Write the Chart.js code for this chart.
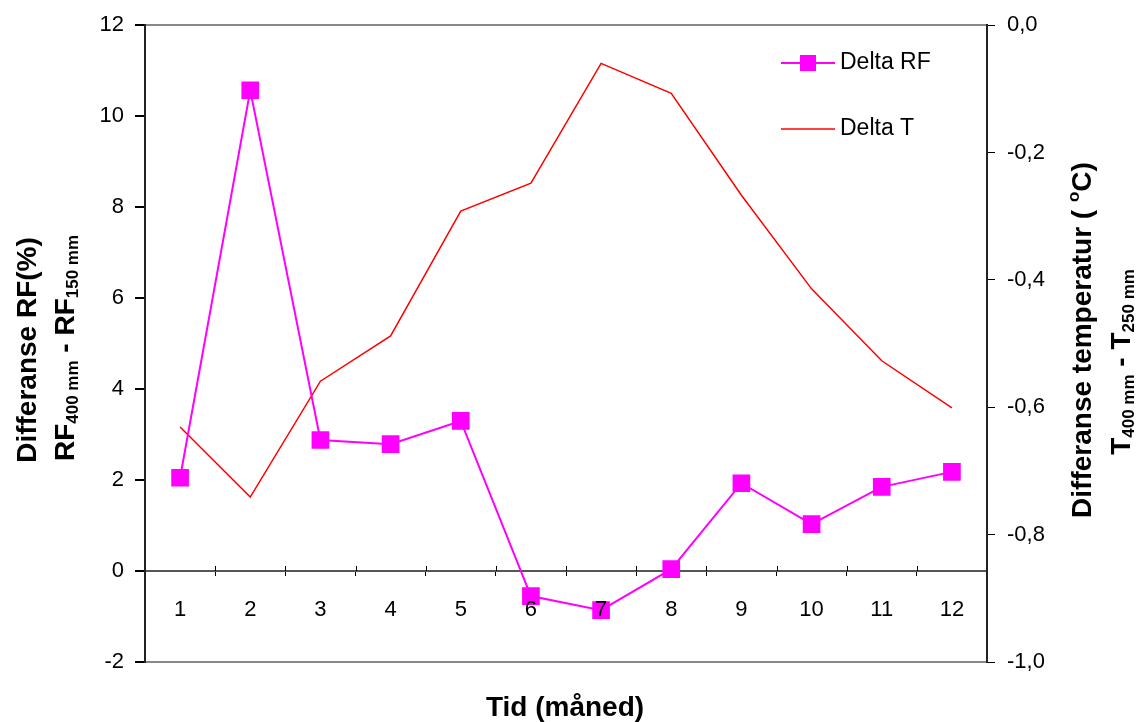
<!DOCTYPE html>
<html>
<head>
    <meta http-equiv="Content-Type" content="text/html; charset=UTF-8">
    <title>Delta RF / Delta T</title>
    <script src="https://cdn.jsdelivr.net/npm/chart.js@4.4.1/dist/chart.umd.min.js"></script>
    <style>
        html, body { margin: 0; padding: 0; background: #fff; }
        #wrap { width: 1145px; height: 722px; }
    </style>
    <script>
        // data
        const maaneder = ['1', '2', '3', '4', '5', '6', '7', '8', '9', '10', '11', '12'];
        const deltaRF = [2.05, 10.57, 2.88, 2.79, 3.3, -0.55, -0.86, 0.04, 1.93, 1.03, 1.85, 2.18];
        const deltaT = [-0.631, -0.741, -0.559, -0.488, -0.292, -0.248, -0.060, -0.107, -0.267, -0.414, -0.527, -0.601];
        const venstreTicks = [-2, 0, 2, 4, 6, 8, 10, 12];
        const hoyreTicks = [-1.0, -0.8, -0.6, -0.4, -0.2, 0.0];

        const FONT = 'Liberation Sans, Arial, sans-serif';

        // tekst med sub/superscript, evt. rotert
        function drawRich(ctx, parts, x, y, rot) {
            ctx.save();
            ctx.translate(x, y);
            if (rot) ctx.rotate(rot);
            ctx.fillStyle = '#000';
            ctx.textBaseline = 'alphabetic';
            ctx.textAlign = 'left';
            let total = 0;
            parts.forEach(p => { ctx.font = p.f; p.w = ctx.measureText(p.t).width; total += p.w; });
            let cx = -total / 2;
            parts.forEach(p => {
                ctx.font = p.f;
                ctx.fillText(p.t, cx, p.dy || 0);
                cx += p.w;
            });
            ctx.restore();
        }

        const titlePlugin = {
            id: 'aksetitler',
            afterDraw(chart) {
                const ctx = chart.ctx;
                const big = 'bold 28px ' + FONT;
                const sub = 'bold 17px ' + FONT;
                const up = -Math.PI / 2;
                drawRich(ctx, [{ t: 'Differanse RF(%)', f: big }], 36, 350, up);
                drawRich(ctx, [
                    { t: 'RF', f: big }, { t: '400 mm', f: sub, dy: 4 },
                    { t: ' - RF', f: big }, { t: '150 mm', f: sub, dy: 4 }
                ], 74, 348, up);
                drawRich(ctx, [
                    { t: 'Differanse temperatur ( ', f: big },
                    { t: 'o', f: sub, dy: -12 }, { t: 'C)', f: big }
                ], 1091, 340, up);
                drawRich(ctx, [
                    { t: 'T', f: big }, { t: '400 mm', f: sub, dy: 4 },
                    { t: ' - T', f: big }, { t: '250 mm', f: sub, dy: 4 }
                ], 1130, 362, up);
                drawRich(ctx, [{ t: 'Tid (måned)', f: big }], 565, 716, 0);
            }
        };

        // forklaring oppe til høyre, inne i plottet
        const legendPlugin = {
            id: 'forklaring',
            afterDatasetsDraw(chart) {
                const ctx = chart.ctx;
                const rows = [63, 129];
                chart.data.datasets.forEach((ds, i) => {
                    const y = rows[i];
                    ctx.save();
                    ctx.strokeStyle = ds.borderColor;
                    ctx.lineWidth = ds.borderWidth;
                    ctx.beginPath();
                    ctx.moveTo(781, y);
                    ctx.lineTo(835, y);
                    ctx.stroke();
                    if (ds.pointRadius > 0) {
                        ctx.fillStyle = ds.pointBackgroundColor;
                        ctx.fillRect(808 - 8, y - 8, 16, 16);
                    }
                    ctx.fillStyle = '#000';
                    ctx.font = '23px ' + FONT;
                    ctx.textBaseline = 'middle';
                    ctx.fillText(ds.label, 840, y);
                    ctx.restore();
                });
            }
        };

        // små merker på nullinja som går opp også
        const tickPlugin = {
            id: 'kryssmerker',
            afterDatasetsDraw(chart) {
                const x = chart.scales.x, y = chart.scales.y;
                const y0 = y.getPixelForValue(0);
                const ctx = chart.ctx;
                ctx.save();
                ctx.strokeStyle = '#000';
                ctx.lineWidth = 1;
                for (let i = 0; i < maaneder.length - 1; i++) {
                    const px = Math.round((x.getPixelForValue(i) + x.getPixelForValue(i + 1)) / 2) + 0.5;
                    ctx.beginPath();
                    ctx.moveTo(px, y0 - 5);
                    ctx.lineTo(px, y0);
                    ctx.stroke();
                }
                ctx.restore();
            }
        };

        window.addEventListener('load', function () {
            const ctx = document.getElementById('myChart');
            new Chart(ctx, {
                type: 'line',
                data: {
                    labels: maaneder,
                    datasets: [{
                        label: 'Delta RF',
                        data: deltaRF,
                        yAxisID: 'y',
                        borderColor: '#FF00FF',
                        backgroundColor: '#FF00FF',
                        borderWidth: 2,
                        pointStyle: 'rect',
                        pointRadius: 12.5,
                        pointHoverRadius: 12.5,
                        pointBorderWidth: 0,
                        pointBackgroundColor: '#FF00FF',
                        tension: 0
                    }, {
                        label: 'Delta T',
                        data: deltaT,
                        yAxisID: 'y2',
                        borderColor: '#FF0000',
                        backgroundColor: '#FF0000',
                        borderWidth: 1.5,
                        pointRadius: 0,
                        tension: 0
                    }]
                },
                options: {
                    responsive: false,
                    animation: false,
                    layout: { padding: { top: 25, bottom: 60, left: 0, right: 0 } },
                    plugins: {
                        legend: { display: false },
                        tooltip: { enabled: false }
                    },
                    scales: {
                        x: {
                            type: 'category',
                            position: { y: 0 },
                            offset: true,
                            grid: { offset: true, drawOnChartArea: false, tickLength: 5, color: '#000' },
                            border: { display: false },
                            // tallene ligger over markørene (se 7)
                            ticks: { z: 1, color: '#000', font: { size: 22, family: FONT }, padding: 21, maxRotation: 0 }
                        },
                        y: {
                            position: 'left',
                            min: -2,
                            max: 12,
                            afterBuildTicks: s => { s.ticks = venstreTicks.map(v => ({ value: v })); },
                            afterFit: s => { s.width = 145; },
                            grid: {
                                color: c => {
                                    if (!c.tick) return 'rgba(0,0,0,0)';
                                    if (c.tick.value === 0) return '#555';
                                    return (c.tick.value === 12 || c.tick.value === -2) ? '#888' : 'rgba(0,0,0,0)';
                                },
                                tickColor: '#000',
                                tickLength: 10,
                                lineWidth: 2
                            },
                            border: { color: '#222', width: 2 },
                            ticks: { color: '#000', font: { size: 22, family: FONT }, padding: 11 }
                        },
                        y2: {
                            position: 'right',
                            min: -1,
                            max: 0,
                            afterBuildTicks: s => { s.ticks = hoyreTicks.map(v => ({ value: v })); },
                            afterFit: s => { s.width = 158; },
                            grid: { drawOnChartArea: false, tickColor: '#000', tickLength: 8 },
                            border: { color: '#222', width: 2 },
                            ticks: {
                                color: '#000',
                                font: { size: 22, family: FONT },
                                padding: 12,
                                callback: v => v.toFixed(1).replace('.', ',')
                            }
                        }
                    }
                },
                plugins: [tickPlugin, legendPlugin, titlePlugin]
            });
        });
    </script>
</head>
<body>
    <div id="wrap">
        <canvas id="myChart" width="1145" height="722"></canvas>
    </div>
</body>
</html>
